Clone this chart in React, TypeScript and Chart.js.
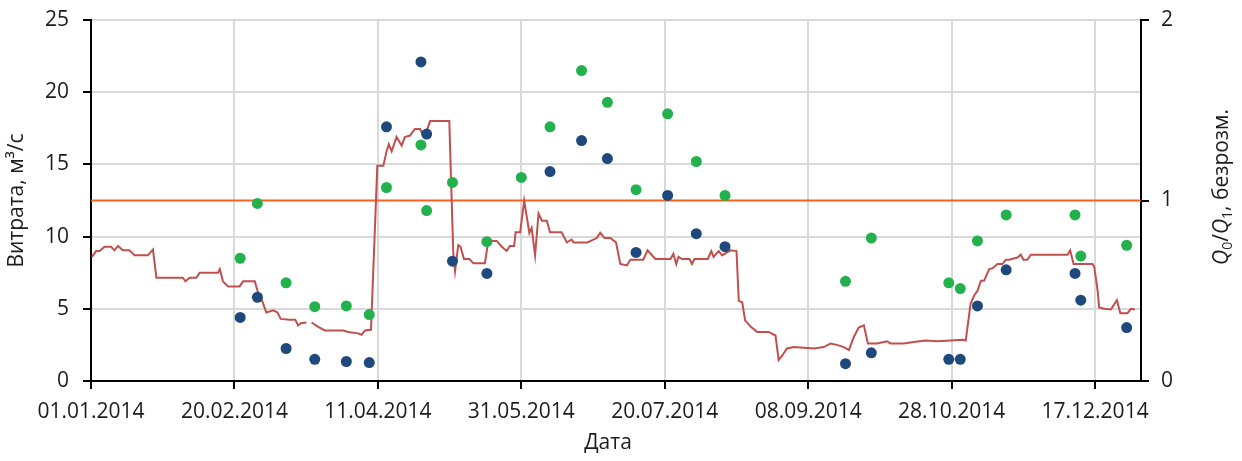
import React, { useEffect, useRef } from "react";
import { Chart, registerables } from "chart.js";

Chart.register(...registerables);

// day offsets from 01.01.2014
const xTickDays = [0, 50, 100, 150, 200, 250, 300, 350];
const X_MAX = 366;
const leftTicks = [0, 5, 10, 15, 20, 25];
const rightTicks = [0, 1, 2];

// Flow (Витрата), m3/s — red line
const flowDays = [
  0.3, 1.8, 3, 4.7, 7, 8.2, 9.4, 11.1, 13.4, 15.2, 19.8, 21.6, 22.8, 32, 32.9, 34.4, 36.7, 37.9, 44.3, 44.9,
  46, 47.8, 51.8, 53, 57.1, 58.2, 59.4, 61.1, 63.5, 65, 66.1, 69.3, 71.2, 72.2, 73.1, 75.1, 76, 76.9, 79.2, 81.5,
  87.9, 89.6, 93.1, 94.3, 95.5, 97.6, 99.8, 101.9, 103, 103.8, 104.8, 106.5, 108.3, 109.4, 111.2, 112.9, 114.7, 115.8, 117, 118.2,
  124.9, 125.5, 126.3, 126.9, 128, 128.8, 130, 131.9, 133.3, 137.3, 138.5, 141.4, 143.2, 144.9, 146, 147.5, 148, 149.6, 151, 152.8,
  153.6, 154.8, 156, 157.2, 158.9, 160, 164, 165.9, 167.5, 168.2, 169, 173, 176.3, 177.5, 179, 181, 183, 184.5, 186.8, 188,
  192.5, 194, 196.7, 202, 203, 204, 204.8, 206, 208.6, 209.5, 210.3, 215, 216.2, 217, 218.8, 220, 222.9, 225, 225.8, 227,
  228, 230, 232.2, 236.2, 238.6, 239.7, 240.9, 242.6, 245, 248.4, 252, 255.4, 257.8, 260, 262.4, 264.2, 265.9, 267.6, 269.4, 270.8,
  274, 277.5, 278.7, 283.3, 286.8, 290.9, 295, 299.6, 303.7, 304.9, 306.6, 307.8, 309, 310.2, 311.3, 313.1, 314.2, 316, 317.7, 318.9,
  320, 322.9, 324.1, 325, 326.4, 327.6, 340.4, 341.3, 342.5, 349.1, 349.7, 350.9, 351.4, 353.2, 355.5, 357.6, 358.8, 361.3, 362.5, 363.9,
];
const flowValues = [
  8.6, 9.0, 9.0, 9.3, 9.3, 9.05, 9.35, 9.05, 9.05, 8.7, 8.7, 9.1, 7.15, 7.15, 6.9, 7.15, 7.15, 7.5, 7.5, 7.75,
  6.9, 6.55, 6.55, 6.9, 6.9, 6.15, 5.7, 4.75, 4.9, 4.75, 4.3, 4.25, 4.25, 3.85, 4.0, 4.05, null, 4.05, 3.75, 3.5,
  3.5, 3.4, 3.3, 3.2, 3.5, 3.55, 14.9, 14.9, 15.9, 16.4, 15.9, 16.9, 16.3, 16.9, 17.0, 17.45, 17.45, 17.0, 17.3, 18.0,
  18.0, 13.9, 8.8, 7.6, 9.4, 9.3, 8.45, 8.45, 8.15, 8.15, 9.7, 9.7, 9.3, 9.0, 9.35, 9.35, 10.3, 10.3, 12.5, 10.25,
  10.6, 8.7, 11.6, 11.1, 11.1, 10.3, 10.3, 9.6, 9.8, 9.6, 9.6, 9.6, 9.9, 10.27, 9.9, 9.9, 9.6, 8.1, 8.0, 8.4,
  8.4, 9.05, 8.45, 8.45, 8.8, 8.1, 8.6, 8.45, 8.45, 8.1, 8.45, 8.45, 9.0, 8.6, 9.0, 8.7, 9.05, 9.0, 5.55, 5.45,
  4.2, 3.75, 3.4, 3.4, 3.15, 1.45, 1.75, 2.25, 2.35, 2.3, 2.25, 2.35, 2.6, 2.5, 2.35, 2.15, 3.05, 3.7, 3.85, 2.6,
  2.6, 2.75, 2.6, 2.6, 2.7, 2.8, 2.75, 2.8, 2.85, 2.8, 5.35, 5.9, 6.25, 6.95, 6.95, 7.75, 7.8, 8.1, 8.1, 8.4,
  8.4, 8.55, 8.75, 8.4, 8.4, 8.75, 8.75, 9.05, 8.1, 8.1, 7.9, 6.25, 5.1, 5.0, 4.95, 5.6, 4.7, 4.7, 5.0, 4.95,
];

// Sampling dates (day offsets) and measured values
const sampleDays = [52, 58, 68, 78, 89, 97, 103, 115, 117, 126, 138, 150, 160, 171, 180, 190, 201, 211, 221, 263, 272, 299, 303, 309, 319, 343, 345, 361];
const blueValues = [4.4, 5.8, 2.25, 1.5, 1.35, 1.28, 17.6, 22.1, 17.1, 8.3, 7.45, null, 14.5, 16.65, 15.4, 8.9, 12.85, 10.2, 9.3, 1.2, 1.95, 1.5, 1.5, 5.2, 7.7, 7.45, 5.6, 3.7];
const greenValues = [8.5, 12.3, 6.8, 5.15, 5.2, 4.6, 13.4, 16.35, 11.8, 13.75, 9.65, 14.1, 17.6, 21.5, 19.3, 13.25, 18.5, 15.2, 12.85, 6.9, 9.9, 6.8, 6.4, 9.7, 11.5, 11.5, 8.65, 9.4];

// Q0/Q1 reference level (right axis)
const ratioLevel = 1;

const FONT = "'Open Sans', 'DejaVu Sans', sans-serif";
const TEXT = "#1f1b1c";

function fmtDay(day: number): string {
  const d = new Date(Date.UTC(2014, 0, 1) + day * 86400000);
  const dd = String(d.getUTCDate()).padStart(2, "0");
  const mm = String(d.getUTCMonth() + 1).padStart(2, "0");
  return `${dd}.${mm}.${d.getUTCFullYear()}`;
}

const titlesPlugin = {
  id: "customTitles",
  afterDraw(chart: any) {
    const ctx = chart.ctx as CanvasRenderingContext2D;
    const area = chart.chartArea;
    ctx.save();
    ctx.fillStyle = TEXT;
    // bottom title
    ctx.font = `21px ${FONT}`;
    ctx.textAlign = "center";
    ctx.textBaseline = "middle";
    ctx.fillText("Дата", 608, 443);

    // left title
    ctx.save();
    ctx.translate(17, (area.top + area.bottom) / 2);
    ctx.rotate(-Math.PI / 2);
    ctx.textAlign = "center";
    ctx.textBaseline = "middle";
    ctx.fillText("Витрата, м³/с", 0, 0);
    ctx.restore();

    // right title with italic Q and subscripts
    const parts = [
      { t: "Q", italic: true, sub: false },
      { t: "0", italic: false, sub: true },
      { t: "/", italic: false, sub: false },
      { t: "Q", italic: true, sub: false },
      { t: "1", italic: false, sub: true },
      { t: ", безрозм.", italic: false, sub: false },
    ];
    const fontFor = (p: any) => `${p.italic ? "italic " : ""}${p.sub ? 14 : 21}px ${FONT}`;
    let total = 0;
    for (const p of parts) {
      ctx.font = fontFor(p);
      total += ctx.measureText(p.t).width;
    }
    ctx.save();
    ctx.translate(1220, 187);
    ctx.rotate(-Math.PI / 2);
    ctx.textAlign = "left";
    ctx.textBaseline = "alphabetic";
    let x = -total / 2;
    for (const p of parts) {
      ctx.font = fontFor(p);
      ctx.fillText(p.t, x, p.sub ? 12 : 7.5);
      x += ctx.measureText(p.t).width;
    }
    ctx.restore();
    ctx.restore();
  },
};

export default function App() {
  const ref = useRef<HTMLCanvasElement | null>(null);

  useEffect(() => {
    document.body.style.margin = "0";
    if (!ref.current) return;

    const flowData = flowDays.map((d, i) => ({ x: d, y: flowValues[i] as any }));
    const blueData = sampleDays
      .map((d, i) => ({ x: d, y: blueValues[i] as any }))
      .filter((p) => p.y !== null);
    const greenData = sampleDays.map((d, i) => ({ x: d, y: greenValues[i] }));
    const levelData = [
      { x: 0, y: ratioLevel },
      { x: X_MAX, y: ratioLevel },
    ];

    const gridBase = {
      color: "#d9d9d9",
      lineWidth: 2,
      tickColor: "#000",
      tickLength: 8,
      tickWidth: 2,
    };
    const tickFont = { family: FONT, size: 21 };

    const chart = new Chart(ref.current, {
      type: "scatter",
      data: {
        datasets: [
          {
            label: "blue",
            data: blueData,
            yAxisID: "y",
            backgroundColor: "#1f497d",
            borderColor: "#1f497d",
            pointRadius: 5.5,
            pointBorderWidth: 0,
            showLine: false,
            order: 1,
          },
          {
            label: "green",
            data: greenData,
            yAxisID: "y",
            backgroundColor: "#22b14c",
            borderColor: "#22b14c",
            pointRadius: 5.5,
            pointBorderWidth: 0,
            showLine: false,
            order: 2,
          },
          {
            label: "flow",
            data: flowData,
            yAxisID: "y",
            borderColor: "#c0504d",
            borderWidth: 2,
            pointRadius: 0,
            showLine: true,
            spanGaps: false,
            tension: 0,
            order: 3,
          },
          {
            label: "level",
            data: levelData,
            yAxisID: "y1",
            borderColor: "#f0641e",
            borderWidth: 2,
            pointRadius: 0,
            showLine: true,
            order: 4,
          },
        ],
      },
      options: {
        animation: false,
        responsive: false,
        layout: { padding: { top: 20, left: 0, right: 0, bottom: 0 } },
        plugins: {
          legend: { display: false },
          tooltip: { enabled: false },
        },
        scales: {
          x: {
            type: "linear",
            min: 0,
            max: X_MAX,
            grid: { ...gridBase },
            border: { color: "#000", width: 2 },
            afterBuildTicks: (s: any) => {
              s.ticks = xTickDays.map((v) => ({ value: v }));
            },
            afterFit: (s: any) => {
              s.height = 80;
            },
            ticks: {
              font: tickFont,
              color: TEXT,
              padding: 10,
              maxRotation: 0,
              autoSkip: false,
              callback: (v: any) => fmtDay(Number(v)),
            },
          },
          y: {
            type: "linear",
            position: "left",
            min: 0,
            max: 25,
            grid: { ...gridBase },
            border: { color: "#000", width: 2 },
            afterBuildTicks: (s: any) => {
              s.ticks = leftTicks.map((v) => ({ value: v }));
            },
            afterFit: (s: any) => {
              s.width = 91;
              s.paddingTop = 0;
              s.paddingBottom = 0;
            },
            ticks: { font: tickFont, color: TEXT, padding: 14 },
          },
          y1: {
            type: "linear",
            position: "right",
            min: 0,
            max: 2,
            grid: { ...gridBase, drawOnChartArea: false },
            border: { color: "#000", width: 2 },
            afterBuildTicks: (s: any) => {
              s.ticks = rightTicks.map((v) => ({ value: v }));
            },
            afterFit: (s: any) => {
              s.width = 101;
              s.paddingTop = 0;
              s.paddingBottom = 0;
            },
            ticks: { font: tickFont, color: TEXT, padding: 12 },
          },
        },
      },
      plugins: [titlesPlugin],
    } as any);

    return () => chart.destroy();
  }, []);

  return (
    <div style={{ width: 1242, height: 461 }}>
      <canvas ref={ref} width={1242} height={461} style={{ display: "block" }} />
    </div>
  );
}
